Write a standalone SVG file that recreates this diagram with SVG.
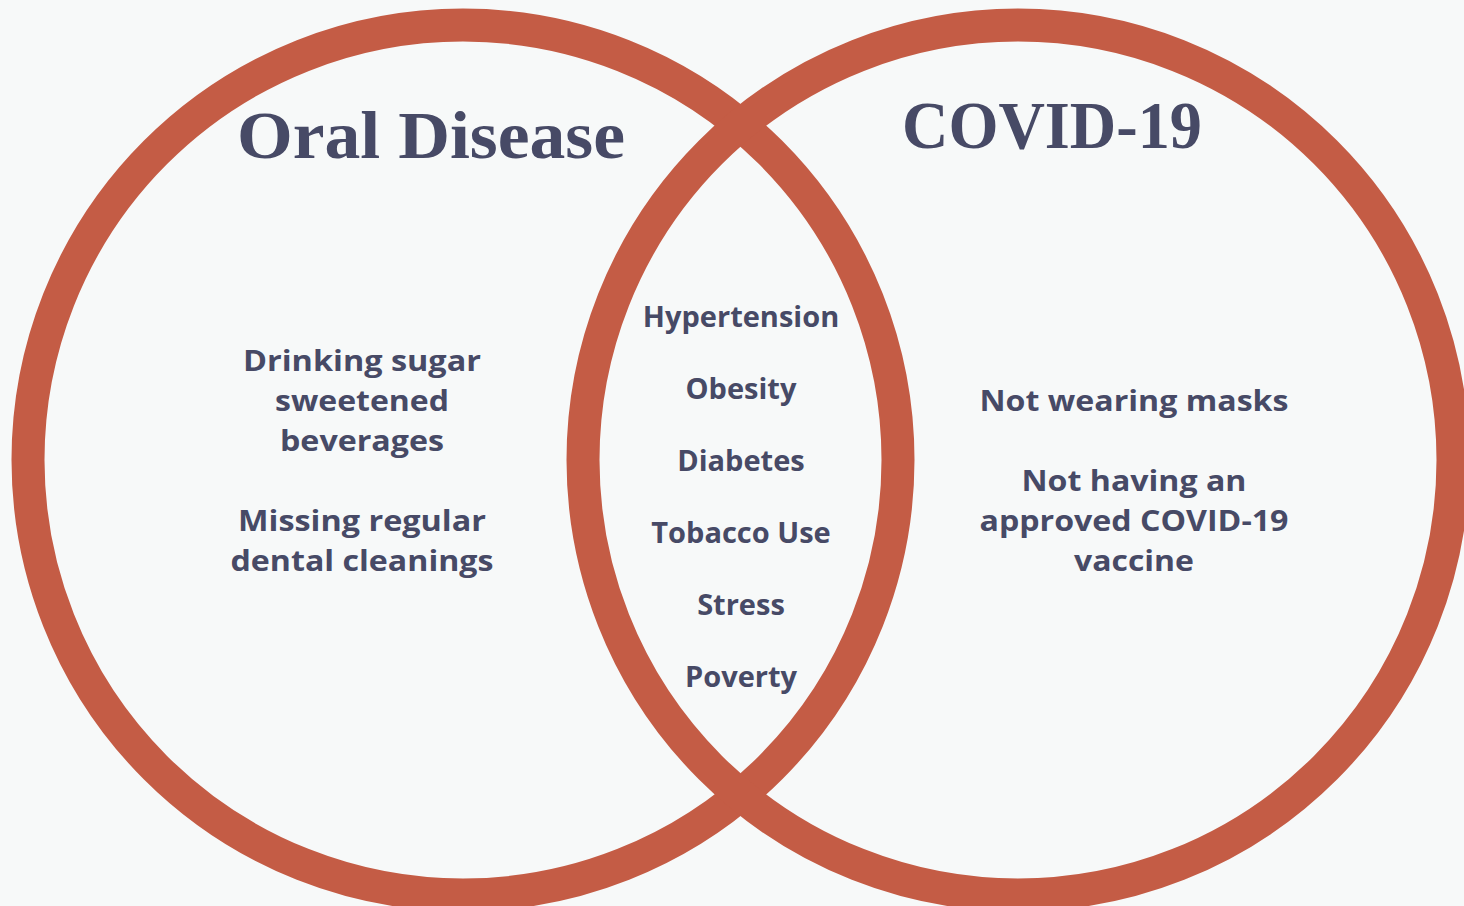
<svg xmlns="http://www.w3.org/2000/svg" width="1464" height="906" viewBox="0 0 1464 906">
<style>
.ring{fill:none;stroke:#c45c45;stroke-width:33}
.title{font-family:"Liberation Serif","DejaVu Serif",serif;font-weight:bold;font-size:68px;fill:#474a66;text-anchor:middle}
.lbl{font-family:"Open Sans","Noto Sans",sans-serif;font-weight:bold;font-size:29px;fill:#474a66;text-anchor:middle}
</style>
<rect width="1464" height="906" fill="#f7f9f9"/>
<g id="connectors"/>
<g id="oral-disease">
<circle class="ring" cx="463" cy="460" r="435"/>
<text class="title" x="431" y="158" textLength="388" lengthAdjust="spacingAndGlyphs">Oral Disease</text>
<text class="lbl" x="362" y="371" textLength="238" lengthAdjust="spacingAndGlyphs">Drinking sugar</text>
<text class="lbl" x="362" y="411" textLength="174" lengthAdjust="spacingAndGlyphs">sweetened</text>
<text class="lbl" x="362" y="451" textLength="164" lengthAdjust="spacingAndGlyphs">beverages</text>
<text class="lbl" x="362" y="531" textLength="248" lengthAdjust="spacingAndGlyphs">Missing regular</text>
<text class="lbl" x="362" y="571" textLength="263" lengthAdjust="spacingAndGlyphs">dental cleanings</text>
</g>
<g id="covid-19">
<circle class="ring" cx="1018" cy="460" r="435"/>
<text class="title" x="1052" y="148" textLength="300" lengthAdjust="spacingAndGlyphs">COVID-19</text>
<text class="lbl" x="1134" y="411" textLength="309" lengthAdjust="spacingAndGlyphs">Not wearing masks</text>
<text class="lbl" x="1134" y="491" textLength="225" lengthAdjust="spacingAndGlyphs">Not having an</text>
<text class="lbl" x="1134" y="531" textLength="309" lengthAdjust="spacingAndGlyphs">approved COVID-19</text>
<text class="lbl" x="1134" y="571" textLength="120" lengthAdjust="spacingAndGlyphs">vaccine</text>
</g>
<g id="shared">
<text class="lbl" x="741" y="327">Hypertension</text>
<text class="lbl" x="741" y="399">Obesity</text>
<text class="lbl" x="741" y="471">Diabetes</text>
<text class="lbl" x="741" y="543">Tobacco Use</text>
<text class="lbl" x="741" y="615">Stress</text>
<text class="lbl" x="741" y="687">Poverty</text>
</g>
</svg>
